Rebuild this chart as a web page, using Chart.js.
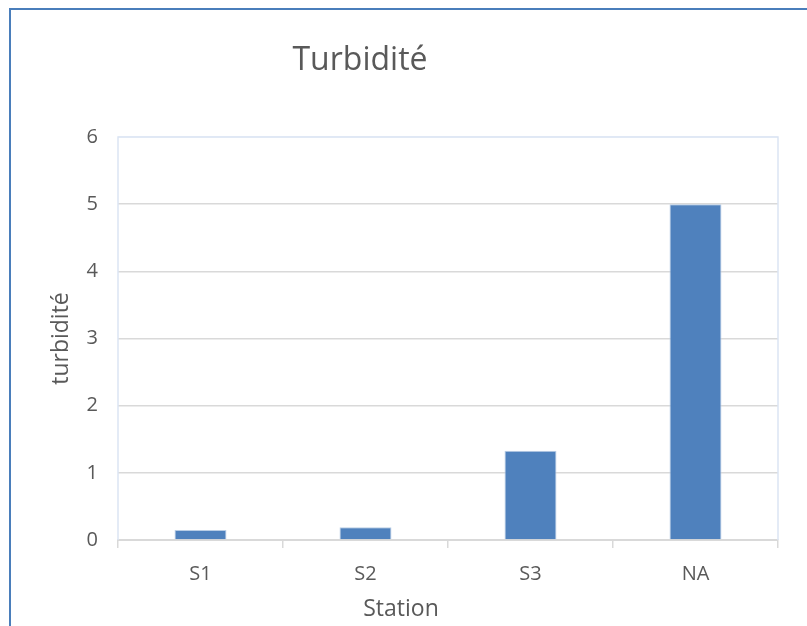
<!DOCTYPE html>
<html>
<head>
<meta charset="utf-8">
<script src="https://cdn.jsdelivr.net/npm/chart.js@4"></script>
<style>
    html, body { margin: 0; padding: 0; background: #fff; }
    #frame {
        position: absolute; left: 9px; top: 8px; width: 820px; height: 640px;
        border-top: 2px solid #4a7ebb; border-left: 2px solid #4a7ebb;
    }
    #wrap { position: absolute; left: 0; top: 0; width: 807px; height: 626px; }
</style>
</head>
<body>
<div id="frame"></div>
<div id="wrap"><canvas id="barChart" width="807" height="626"></canvas></div>
<script>
    const stations = ['S1', 'S2', 'S3', 'NA'];
    const turbidite = [0.15, 0.19, 1.33, 5.0];
    const yTicks = [0, 1, 2, 3, 4, 5, 6];

    const TEXT_COLOR = '#595959';
    const FONT = '"Open Sans", sans-serif';

    // cadre bleu clair de la zone de tracé
    const plotBorder = {
        id: 'plotBorder',
        beforeDatasetsDraw(chart) {
            const a = chart.chartArea;
            const ctx = chart.ctx;
            ctx.save();
            ctx.strokeStyle = '#dbe5f3';
            ctx.lineWidth = 1.5;
            ctx.beginPath();
            ctx.moveTo(a.left, a.bottom);
            ctx.lineTo(a.left, a.top);
            ctx.lineTo(a.right, a.top);
            ctx.lineTo(a.right, a.bottom);
            ctx.stroke();
            ctx.restore();
        }
    };

    // titre du graphique et titre de l'axe X (décalés comme dans Excel)
    const titleText = {
        id: 'titleText',
        afterDraw(chart) {
            const ctx = chart.ctx;
            ctx.save();
            ctx.fillStyle = TEXT_COLOR;
            ctx.textAlign = 'center';
            ctx.textBaseline = 'middle';
            ctx.font = '32px ' + FONT;
            ctx.fillText('Turbidité', 360, 61);
            ctx.font = '23px ' + FONT;
            ctx.fillText('Station', 401, 609);
            ctx.restore();
        }
    };

    new Chart(document.getElementById('barChart').getContext('2d'), {
        type: 'bar',
        data: {
            labels: stations,
            datasets: [{
                data: turbidite,
                backgroundColor: '#4f81bd',
                borderColor: '#b9cde5',
                borderWidth: 1,
                barPercentage: 0.315,
                categoryPercentage: 1
            }]
        },
        options: {
            responsive: false,
            animation: false,
            events: [],
            layout: { padding: { left: 10, top: 137, right: 29, bottom: 0 } },
            plugins: { legend: { display: false }, tooltip: { enabled: false } },
            scales: {
                x: {
                    afterFit: function (scale) { scale.height = 86; },
                    grid: {
                        offset: true,
                        drawOnChartArea: false,
                        color: '#d9d9d9',
                        tickLength: 8,
                        lineWidth: 1.5
                    },
                    border: { color: '#d9d9d9', width: 2 },
                    ticks: { color: TEXT_COLOR, font: { family: FONT, size: 20 }, padding: 14 }
                },
                y: {
                    min: 0,
                    max: 6,
                    afterFit: function (scale) { scale.width = 108; },
                    afterBuildTicks: function (scale) {
                        scale.ticks = yTicks.map(function (v) { return { value: v }; });
                    },
                    grid: {
                        drawTicks: false,
                        color: function (ctx) { return ctx.tick && ctx.tick.value === 6 ? '#eef3fa' : '#d9d9d9'; },
                        lineWidth: 1.5
                    },
                    border: { display: false },
                    ticks: { color: TEXT_COLOR, font: { family: FONT, size: 20 }, padding: 20 },
                    title: {
                        display: true,
                        text: 'turbidité',
                        color: TEXT_COLOR,
                        font: { family: FONT, size: 23 },
                        padding: { top: 38, bottom: 0 }
                    }
                }
            }
        },
        plugins: [plotBorder, titleText]
    });
</script>
</body>
</html>
